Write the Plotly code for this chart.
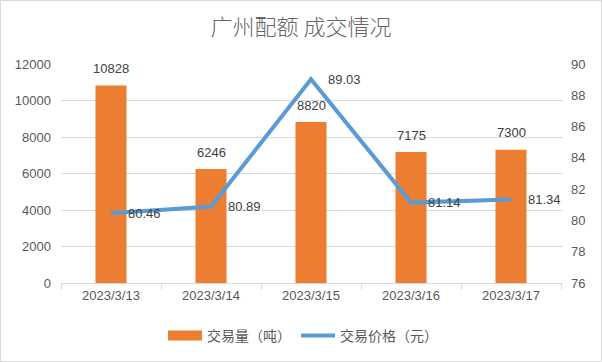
import plotly.graph_objects as go

dates = ["2023/3/13", "2023/3/14", "2023/3/15", "2023/3/16", "2023/3/17"]
volume = [10828, 6246, 8820, 7175, 7300]
price = [80.46, 80.89, 89.03, 81.14, 81.34]
left_ticks = [0, 2000, 4000, 6000, 8000, 10000, 12000]
right_ticks = [76, 78, 80, 82, 84, 86, 88, 90]

W, H = 602, 362
ML, MR, MT, MB = 61, 39, 64, 79
PW, PH = W - ML - MR, H - MT - MB

font_cjk = "Noto Sans CJK SC, Microsoft YaHei, sans-serif"
font_num = "Liberation Sans, Arial, sans-serif"
txt = "#404040"
tick = "#595959"
orange = "#ED7D31"
blue = "#5B9BD5"

fig = go.Figure()
fig.add_trace(go.Bar(
    x=dates, y=volume, name="交易量（吨）",
    marker=dict(color=orange, line=dict(width=0)),
    yaxis="y", showlegend=False, legendgroup="v",
))
# legend swatch for bars (wide rectangle look)
fig.add_trace(go.Scatter(
    x=[None], y=[None], name="交易量（吨）", mode="lines",
    line=dict(color=orange, width=10), legendgroup="v", yaxis="y",
))
fig.add_trace(go.Scatter(
    x=dates, y=price, name="交易价格（元）", mode="lines",
    line=dict(color=blue, width=4),
    yaxis="y2",
))

annotations = []
for d, v in zip(dates, volume):
    annotations.append(dict(x=d, y=v, xref="x", yref="y", text=str(v),
                            showarrow=False, yshift=17,
                            font=dict(size=13, color=txt, family=font_num)))
for d, p in zip(dates, price):
    annotations.append(dict(x=d, y=p, xref="x", yref="y2", text=f"{p:.2f}",
                            showarrow=False, xanchor="left", xshift=15, yshift=0,
                            font=dict(size=13, color=txt, family=font_num)))

fig.update_layout(
    width=W, height=H,
    margin=dict(l=ML, r=MR, t=MT, b=MB, autoexpand=False),
    paper_bgcolor="white", plot_bgcolor="white",
    title=dict(text="广州配额 成交情况", x=0.5, xanchor="center", y=1 - 27 / H, yanchor="middle",
               font=dict(size=22, color="#666666", family=font_cjk, weight=300)),
    bargap=0.69,
    xaxis=dict(type="category", showgrid=False, showline=True, linecolor="#D9D9D9", linewidth=1,
               ticks="outside", tickson="boundaries", ticklen=6, tickcolor="#D9D9D9",
               tickfont=dict(size=13, color=tick, family=font_num), automargin=False),
    yaxis=dict(range=[0, 12000], tickvals=left_ticks, ticktext=[str(t) for t in left_ticks],
               showgrid=True, gridcolor="#D9D9D9",
               gridwidth=1, zeroline=False, showline=False, automargin=False,
               tickfont=dict(size=13, color=tick, family=font_num), ticks="", ticklabelstandoff=9),
    yaxis2=dict(range=[76, 90], tickvals=right_ticks, overlaying="y", side="right", showgrid=False,
                zeroline=False, showline=False, automargin=False,
                tickfont=dict(size=13, color=tick, family=font_num), ticks="", ticklabelstandoff=7),
    legend=dict(orientation="h", x=0.5 - 9 / PW, xanchor="center", y=-(336 - 283) / PH, yanchor="middle",
                font=dict(size=14, color=tick, family=font_cjk), itemwidth=34,
                tracegroupgap=0),
    annotations=annotations,
    shapes=[dict(type="rect", xref="paper", yref="paper",
                 x0=-ML / PW + 0.5 / PW, x1=1 + MR / PW - 0.5 / PW,
                 y0=-MB / PH + 0.5 / PH, y1=1 + MT / PH - 0.5 / PH,
                 line=dict(color="#D9D9D9", width=1), layer="below")],
)

fig.write_html("out.html", config={"displayModeBar": False},
               post_script="document.body.style.margin='0';document.body.style.padding='0';")
